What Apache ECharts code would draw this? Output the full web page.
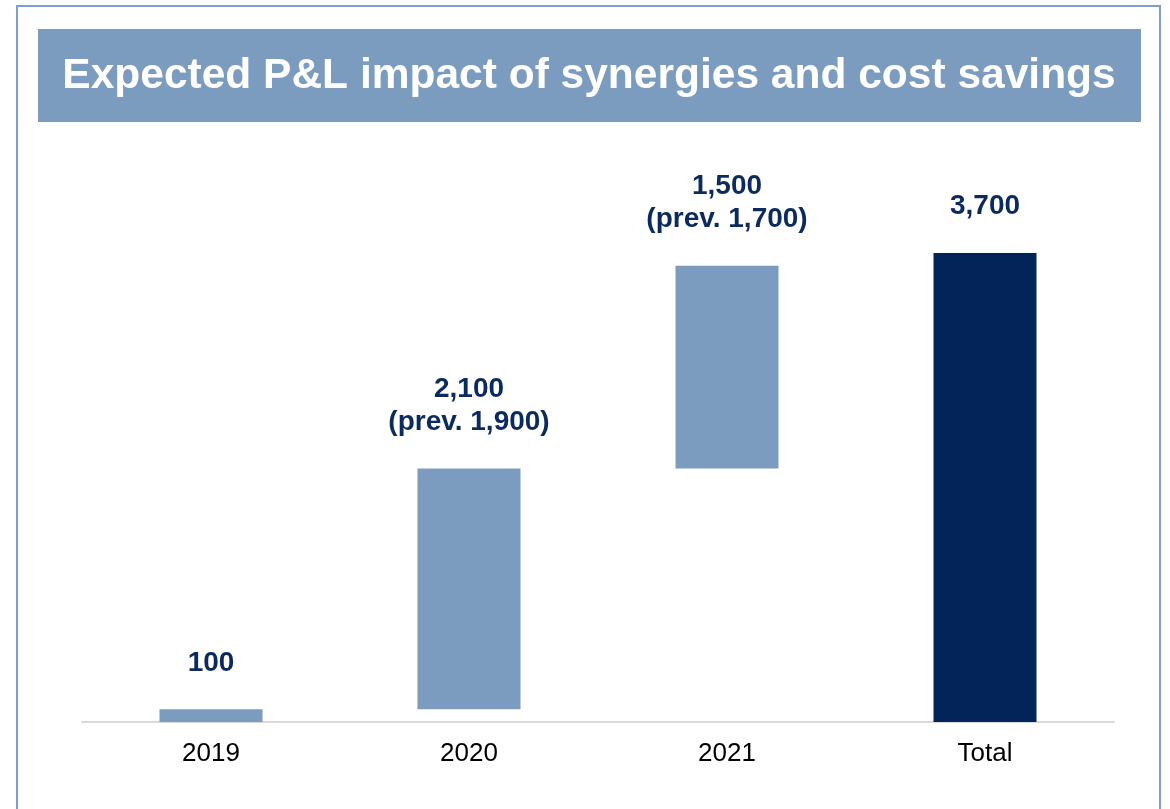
<!DOCTYPE html>
<html>
<head>
<meta charset="utf-8">
<script src="https://cdn.jsdelivr.net/npm/echarts@6/dist/echarts.min.js"></script>
<style>
  html, body { margin: 0; padding: 0; background: #fff; }
  #main { width: 1170px; height: 809px; }
</style>
</head>
<body>
<div id="main"></div>
<script>
var categories = ['2019', '2020', '2021', 'Total'];
// waterfall: invisible base + visible step, as drawn in the picture
var baseValues = [0, 100, 2000, 0];
var stepValues = [100, 1900, 1600, 3700];
var labelTexts = ['100', '2,100\n(prev. 1,900)', '1,500\n(prev. 1,700)', '3,700'];

var lightBlue = '#7b9cbf';
var darkBlue = '#022459';

var chart = echarts.init(document.getElementById('main'));
var option = {
    animation: false,
    grid: { left: 82, right: 56, top: 215, bottom: 87 },
    graphic: [
        {
            type: 'rect',
            shape: { x: 17, y: 6, width: 1143, height: 820 },
            style: { fill: 'none', stroke: '#7f9fc6', lineWidth: 2 }
        },
        {
            type: 'rect',
            shape: { x: 38, y: 29, width: 1103, height: 93 },
            style: { fill: lightBlue }
        },
        {
            type: 'text',
            x: 589,
            y: 76,
            style: {
                text: 'Expected P&L impact of synergies and cost savings',
                fill: '#fff',
                font: 'bold 42.5px "Liberation Sans", Arial, sans-serif',
                align: 'center',
                verticalAlign: 'middle'
            }
        }
    ],
    xAxis: {
        type: 'category',
        data: categories,
        axisLine: { lineStyle: { color: '#d9d9d9', width: 2 } },
        axisTick: { show: false },
        axisLabel: {
            color: '#000',
            fontSize: 26,
            fontFamily: '"Liberation Sans", Arial, sans-serif',
            margin: 19
        }
    },
    yAxis: {
        type: 'value',
        min: 0,
        max: 4000,
        show: false,
        splitLine: { show: false }
    },
    series: [
        {
            type: 'bar',
            stack: 'w',
            data: baseValues,
            barWidth: 103,
            itemStyle: { color: 'transparent' },
            silent: true
        },
        {
            type: 'bar',
            stack: 'w',
            barWidth: 103,
            data: stepValues.map(function (v, i) {
                return {
                    value: v,
                    itemStyle: { color: i === stepValues.length - 1 ? darkBlue : lightBlue }
                };
            }),
            label: {
                show: true,
                position: 'top',
                distance: 30,
                color: '#0b2a5e',
                fontSize: 28,
                fontWeight: 'bold',
                lineHeight: 33,
                fontFamily: '"Liberation Sans", Arial, sans-serif',
                formatter: function (p) { return labelTexts[p.dataIndex]; }
            }
        }
    ]
};
chart.setOption(option);
</script>
</body>
</html>
